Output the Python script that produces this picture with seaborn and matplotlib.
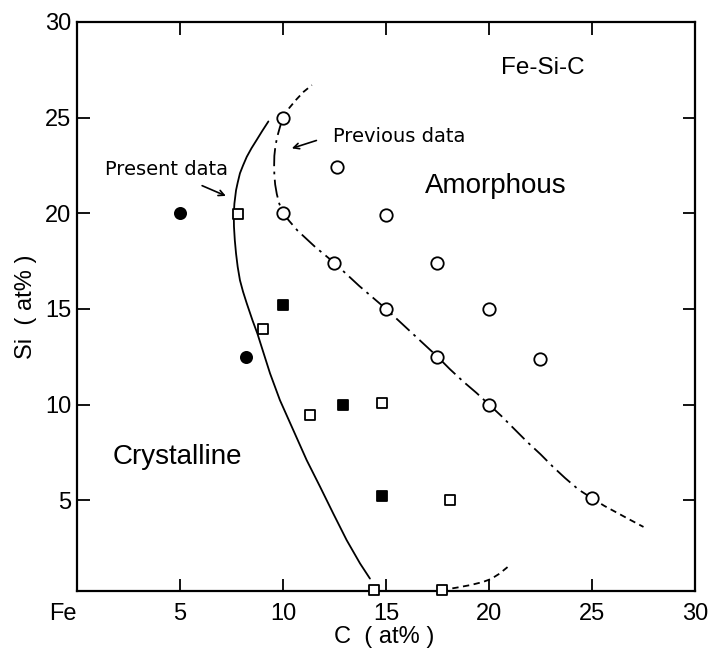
import matplotlib
matplotlib.use("Agg")
import matplotlib.pyplot as plt
import seaborn as sns
import pandas as pd

# ---- data (at% C, at% Si) ----
filled_circle_c = [5.0, 8.2]
filled_circle_si = [20.0, 12.5]

open_square_c = [7.8, 9.05, 11.3, 14.8, 18.1, 14.4, 17.7]
open_square_si = [19.95, 13.95, 9.45, 10.1, 5.0, 0.3, 0.3]

filled_square_c = [10.0, 12.9, 14.8]
filled_square_si = [15.2, 10.0, 5.2]

open_circle_c = [10.0, 12.6, 10.0, 12.5, 15.0, 17.5, 15.0, 20.0, 17.5, 22.5, 20.0, 25.0]
open_circle_si = [25.0, 22.4, 20.0, 17.4, 19.9, 17.4, 15.0, 15.0, 12.5, 12.4, 10.0, 5.1]

# boundary: present data (solid)
present_c = [9.29, 8.99, 8.72, 8.47, 8.24, 8.06, 7.91, 7.8, 7.72, 7.64, 7.61, 7.62, 7.66,
             7.72, 7.8, 7.91, 8.06, 8.24, 8.52, 8.76, 8.96, 9.37, 9.85, 10.5, 11.15,
             11.8, 12.44, 13.09, 13.74, 14.22]
present_si = [24.8, 24.3, 23.83, 23.4, 22.95, 22.5, 22.09, 21.6, 21.2, 20.5, 19.9, 19.3, 18.6,
              17.9, 17.2, 16.5, 15.9, 15.29, 14.4, 13.7, 13.02, 11.63, 10.23, 8.66, 7.09,
              5.7, 4.3, 2.91, 1.69, 0.9]

# boundary: previous data (dash-dot)
previous_c = [10.0, 9.85, 9.72, 9.63, 9.58, 9.57, 9.58, 9.62, 9.7, 9.82, 10.0, 10.3, 10.7,
              11.1, 11.6, 12.0, 12.5, 13.1, 13.7, 14.35, 15.0, 15.6, 16.25, 16.9, 17.5,
              18.1, 18.75, 19.4, 20.0, 20.6, 21.2, 21.85, 22.5, 23.1, 23.7, 24.35, 25.0]
previous_si = [25.0, 24.5, 24.0, 23.5, 23.0, 22.5, 22.0, 21.5, 21.0, 20.5, 20.0, 19.6, 19.1,
               18.7, 18.2, 17.85, 17.4, 16.8, 16.2, 15.6, 15.0, 14.4, 13.75, 13.1, 12.5,
               11.85, 11.2, 10.6, 10.0, 9.4, 8.75, 8.05, 7.4, 6.75, 6.15, 5.55, 5.1]

# extrapolated (dashed) parts
ext_top_c = [10.0, 10.3, 10.65, 11.0, 11.4]
ext_top_si = [25.0, 25.5, 25.95, 26.35, 26.7]
ext_right_c = [25.0, 25.6, 26.2, 26.8, 27.5]
ext_right_si = [5.1, 4.7, 4.35, 4.0, 3.6]
ext_bottom_c = [17.7, 18.4, 19.1, 19.7, 20.1, 20.5, 20.9]
ext_bottom_si = [0.3, 0.42, 0.56, 0.72, 0.88, 1.15, 1.5]

x_ticks = [0, 5, 10, 15, 20, 25, 30]
x_ticklabels = ["Fe", "5", "10", "15", "20", "25", "30"]
y_ticks = [5, 10, 15, 20, 25, 30]
y_ticklabels = ["5", "10", "15", "20", "25", "30"]

sns.set_style("ticks")
plt.rcParams["font.family"] = ["Liberation Sans", "DejaVu Sans"]
plt.rcParams["text.color"] = "black"
plt.rcParams["axes.labelcolor"] = "black"
plt.rcParams["xtick.color"] = "black"
plt.rcParams["ytick.color"] = "black"

fig = plt.figure(figsize=(7.12, 6.55), dpi=100)
ax = fig.add_axes([77 / 712, 64 / 655, 618 / 712, 569 / 655])


def curve(xs, ys, ls):
    df = pd.DataFrame({"c": xs, "si": ys})
    sns.lineplot(data=df, x="c", y="si", sort=False, estimator=None, ax=ax,
                 color="black", lw=1.3, linestyle=ls, zorder=2)


curve(present_c, present_si, "-")
curve(previous_c, previous_si, (0, (10, 3, 1.5, 3)))
curve(ext_top_c, ext_top_si, (0, (3.5, 2.5)))
curve(ext_right_c, ext_right_si, (0, (3.5, 2.5)))
curve(ext_bottom_c, ext_bottom_si, (0, (3.5, 2.5)))


def pts(xs, ys, marker, face, size):
    df = pd.DataFrame({"c": xs, "si": ys})
    sns.scatterplot(data=df, x="c", y="si", ax=ax, marker=marker, s=size,
                    facecolor=face, edgecolor="black", linewidth=1.3,
                    zorder=3, clip_on=False)


pts(open_circle_c, open_circle_si, "o", "white", 80)
pts(open_square_c, open_square_si, "s", "white", 50)
pts(filled_square_c, filled_square_si, "s", "black", 45)
pts(filled_circle_c, filled_circle_si, "o", "black", 65)

ax.set_xlim(0, 30)
ax.set_ylim(0.25, 30)
ax.set_xticks(x_ticks)
ax.set_xticklabels(x_ticklabels)
ax.set_yticks(y_ticks)
ax.set_yticklabels(y_ticklabels)
ax.xaxis.get_majorticklabels()[0].set_horizontalalignment("right")

ax.tick_params(axis="both", direction="in", length=9, width=1.3,
               labelsize=17, top=True, right=True, colors="black")
ax.tick_params(axis="x", pad=9)
ax.tick_params(axis="y", pad=4)
for s in ax.spines.values():
    s.set_linewidth(1.6)
    s.set_color("black")

ax.set_xlabel("C  ( at% )", fontsize=17, color="black")
ax.set_ylabel("Si  ( at% )", fontsize=17, color="black")
ax.xaxis.set_label_coords(0.497, -0.062)
ax.yaxis.set_label_coords(-0.065, 0.5)

ax.text(20.6, 27.6, "Fe-Si-C", fontsize=17.5, ha="left", va="center")
ax.text(16.9, 21.4, "Amorphous", fontsize=20, ha="left", va="center")
ax.text(1.75, 7.25, "Crystalline", fontsize=20, ha="left", va="center")
ax.text(1.36, 22.3, "Present data", fontsize=14, ha="left", va="center",
        family=["DejaVu Sans"])
ax.text(12.43, 24.0, "Previous data", fontsize=14, ha="left", va="center",
        family=["DejaVu Sans"])
ax.annotate("", xy=(7.35, 20.85), xytext=(5.95, 21.5),
            arrowprops=dict(arrowstyle="->", color="black", lw=1.2))
ax.annotate("", xy=(10.3, 23.35), xytext=(11.75, 23.85),
            arrowprops=dict(arrowstyle="->", color="black", lw=1.2))

fig.savefig("out.png", dpi=100, facecolor="white")
